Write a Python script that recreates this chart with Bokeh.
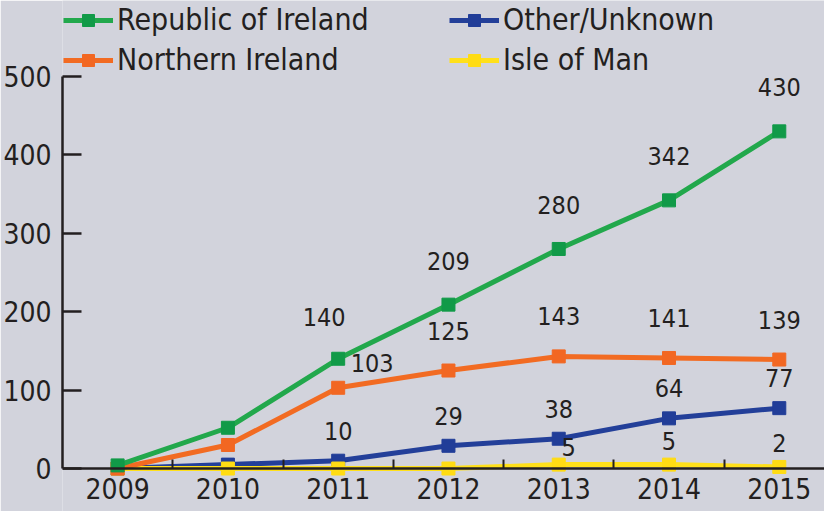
from bokeh.plotting import figure
from bokeh.models import Range1d, FixedTicker, Legend, LegendItem, ColumnDataSource
from bokeh.core.properties import value
from bokeh.embed import file_html
from bokeh.resources import INLINE

# ---------------- data ----------------
years = [2009, 2010, 2011, 2012, 2013, 2014, 2015]
republic_of_ireland = [4, 52, 140, 209, 280, 342, 430]
northern_ireland = [0, 30, 103, 125, 143, 141, 139]
other_unknown = [0, 5, 10, 29, 38, 64, 77]
isle_of_man = [0, 0, 0, 0, 5, 5, 2]

roi_labels = ["", "", "140", "209", "280", "342", "430"]
ni_labels = ["", "", "103", "125", "143", "141", "139"]
other_labels = ["", "", "10", "29", "38", "64", "77"]
iom_labels = ["", "", "", "", "5", "5", "2"]

y_ticks = [0, 100, 200, 300, 400, 500]
x_minor_ticks = [2009.5, 2010.5, 2011.5, 2012.5, 2013.5, 2014.5]

# ---------------- style ----------------
FONT = "'DejaVu Sans Condensed', 'Liberation Sans Narrow', Roboto"
BG = "#d2d3dc"
INK = "#231f20"

series = [
    # name, values, labels, line colour, marker colour, label y offset
    ("Other/Unknown", other_unknown, other_labels, "#233f99", "#213d98", -30),
    ("Isle of Man", isle_of_man, iom_labels, "#ffe01a", "#ffdc14", -24),
    ("Northern Ireland", northern_ireland, ni_labels, "#f26b22", "#f26722", -40),
    ("Republic of Ireland", republic_of_ireland, roi_labels, "#22a84c", "#119a48", -44),
]
# individual label nudges (pixels)
nudges = {("Northern Ireland", 2011): (34, -25), ("Republic of Ireland", 2011): (-14, -42),
          ("Isle of Man", 2013): (10, -18)}

p = figure(width=824, height=511, output_backend="svg", toolbar_location=None,
           x_range=Range1d(2008.5, 2015.41), y_range=Range1d(-54.8, 596.9),
           background_fill_color=BG, border_fill_color=BG, outline_line_color=None,
           min_border_left=59, min_border_right=0, min_border_top=0, min_border_bottom=0)
p.grid.visible = False

items = {}
for name, vals, labs, lc, mc, dy in series:
    src = ColumnDataSource(dict(x=years, y=vals))
    lr = p.line("x", "y", source=src, line_color=lc, line_width=5)
    sr = p.scatter("x", "y", source=src, marker="square", size=13,
                   fill_color=mc, line_color=mc)
    items[name] = [lr, sr]
    xs, ys, ts, dxs, dys = [], [], [], [], []
    for yr, v, t in zip(years, vals, labs):
        if t:
            ox, oy = nudges.get((name, yr), (0, dy))
            xs.append(yr); ys.append(v); ts.append(t); dxs.append(ox); dys.append(oy)
    lsrc = ColumnDataSource(dict(x=xs, y=ys, text=ts, dx=dxs, dy=dys))
    p.text("x", "y", text="text", source=lsrc, x_offset="dx", y_offset="dy",
           text_font=value(FONT), text_font_size=value("25px"), text_color=INK,
           text_align="center", text_baseline="middle")

# axes
xa = p.xaxis[0]
xa.fixed_location = 0
xa.ticker = FixedTicker(ticks=years, minor_ticks=x_minor_ticks)
xa.major_tick_in = 0
xa.major_tick_out = 0
xa.minor_tick_in = 9
xa.minor_tick_out = 0
xa.minor_tick_line_color = INK
xa.minor_tick_line_width = 2
xa.axis_line_color = INK
xa.axis_line_width = 2.5
xa.major_label_text_font = FONT
xa.major_label_text_font_size = "28px"
xa.major_label_text_color = INK
xa.major_label_standoff = 9

ya = p.yaxis[0]
ya.ticker = FixedTicker(ticks=y_ticks, minor_ticks=[])
ya.bounds = (0, 500)
ya.major_tick_in = 19
ya.major_tick_out = 0
ya.major_tick_line_color = INK
ya.major_tick_line_width = 2.5
ya.minor_tick_line_color = None
ya.axis_line_color = INK
ya.axis_line_width = 2.5
ya.major_label_text_font = FONT
ya.major_label_text_font_size = "28px"
ya.major_label_text_color = INK
ya.major_label_standoff = 11


def make_legend(names, loc):
    lg = Legend(items=[LegendItem(label=n, renderers=items[n]) for n in names],
                location=loc, orientation="vertical", padding=0, margin=0,
                spacing=5, glyph_width=50, glyph_height=30, label_standoff=4,
                label_text_font=FONT, label_text_font_size="30px",
                label_text_color=INK, background_fill_alpha=0,
                border_line_alpha=0)
    p.add_layout(lg)


make_legend(["Republic of Ireland", "Northern Ireland"], (1, 434))
make_legend(["Other/Unknown", "Isle of Man"], (387, 434))

open("out.html", "w").write(file_html(p, INLINE))
